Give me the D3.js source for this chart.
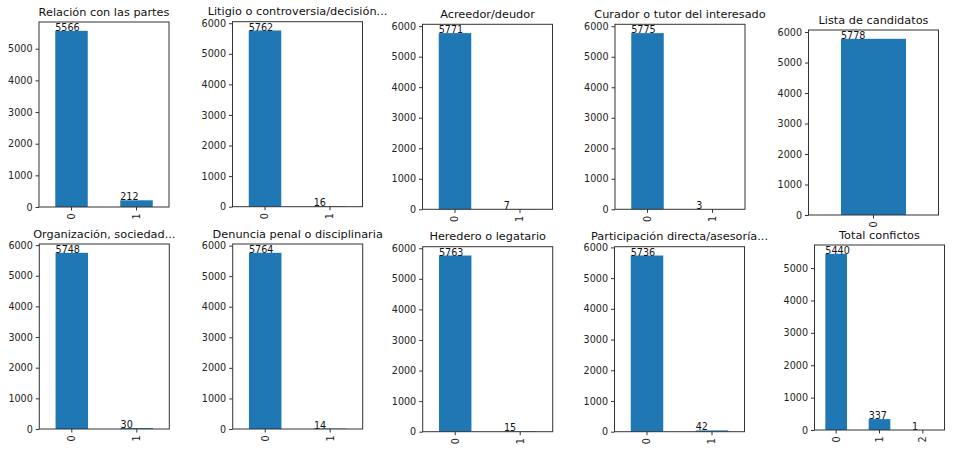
<!DOCTYPE html>
<html><head><meta charset="utf-8">
<script src="https://cdnjs.cloudflare.com/ajax/libs/d3/7.8.5/d3.min.js"></script>
<style>
html,body{margin:0;padding:0;background:#fff;}
svg{display:block;font-family:"DejaVu Sans",sans-serif;}
</style></head>
<body>
<svg id="chart" width="979" height="454"></svg>
<script>
// ---- data ----
const titles = [
  "Relación con las partes",
  "Litigio o controversia/decisión...",
  "Acreedor/deudor",
  "Curador o tutor del interesado",
  "Lista de candidatos",
  "Organización, sociedad...",
  "Denuncia penal o disciplinaria",
  "Heredero o legatario",
  "Participación directa/asesoría...",
  "Total confictos"
];
const categories = [
  ["0","1"],["0","1"],["0","1"],["0","1"],["0"],
  ["0","1"],["0","1"],["0","1"],["0","1"],["0","1","2"]
];
const counts = [
  [5566,212],[5762,16],[5771,7],[5775,3],[5778],
  [5748,30],[5764,14],[5763,15],[5736,42],[5440,337,1]
];
const yTickValues = [0,1000,2000,3000,4000,5000,6000];

// ---- layout (axes boxes of the collage panels) ----
const panelLeft   = [39, 232.5, 422.5, 615, 808.5, 39.3, 232.7, 422.7, 614.5, 814.5];
const panelBottom = [207, 206.7, 209.3, 209.3, 215, 429, 429, 431.7, 431.7, 430];
const axW = 130, axH = 185;

const svg = d3.select("#chart");
const barColor = "#1f77b4";

titles.forEach((title, i) => {
  const vals = counts[i], cats = categories[i];
  const x0 = panelLeft[i], y0 = panelBottom[i] - axH;
  const g = svg.append("g").attr("transform", `translate(${x0},${y0})`);

  const ymax = d3.max(vals) * 1.05;
  const y = d3.scaleLinear().domain([0, ymax]).range([axH, 0]);
  const x = d3.scaleBand().domain(cats).range([0, axW]).paddingInner(0.5).paddingOuter(0.25);

  // bars
  g.selectAll("rect.bar").data(vals).enter().append("rect")
    .attr("class","bar")
    .attr("x", (d,j) => x(cats[j]))
    .attr("width", x.bandwidth())
    .attr("y", d => y(d))
    .attr("height", d => axH - y(d))
    .attr("fill", barColor);

  // annotations
  g.selectAll("text.ann").data(vals).enter().append("text")
    .attr("class","ann")
    .attr("x", (d,j) => x(cats[j]))
    .attr("y", d => y(d))
    .attr("font-size", 9.6)
    .attr("fill", "#111")
    .text(d => d);

  // y axis
  const yAx = d3.axisLeft(y).tickValues(yTickValues.filter(v => v <= ymax))
    .tickFormat(d3.format("d")).tickSize(3.5).tickPadding(3);
  const ya = g.append("g").call(yAx);
  ya.select(".domain").remove();
  ya.selectAll("line").attr("stroke","#333");
  ya.selectAll("text").attr("font-size", 9.6).attr("fill","#222").attr("font-family","DejaVu Sans");

  // x axis
  const xAx = d3.axisBottom(x).tickSize(3.5).tickPadding(3);
  const xa = g.append("g").attr("transform", `translate(0,${axH})`).call(xAx);
  xa.select(".domain").remove();
  xa.selectAll("line").attr("stroke","#333");
  xa.selectAll("text")
    .attr("font-size", 9.6).attr("fill","#222").attr("font-family","DejaVu Sans")
    .attr("transform","rotate(-90)")
    .attr("text-anchor","end")
    .attr("x", -6.5).attr("y", 0).attr("dy","0.35em");

  // spines
  g.append("rect").attr("x",0).attr("y",0).attr("width",axW).attr("height",axH)
    .attr("fill","none").attr("stroke","#333").attr("stroke-width",1);

  // title
  g.append("text").attr("x", axW/2).attr("y", -6.5)
    .attr("text-anchor","middle").attr("font-size", 11.3).attr("fill","#111")
    .text(title);
});
</script>
</body></html>
